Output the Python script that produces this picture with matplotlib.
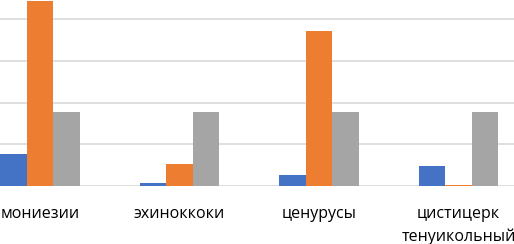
import numpy as np
import matplotlib
matplotlib.use("Agg")
from matplotlib import pyplot as plt

plt.rcParams['font.family'] = ['Open Sans', 'DejaVu Sans']

categories = ['мониезии', 'эхиноккоки', 'ценурусы', 'цистицерк\nтенуикольный']
blue_vals = [7.75, 0.8, 2.6, 4.7]
orange_vals = [44.4, 5.35, 37.3, 0.2]
gray_vals = [17.8, 17.8, 17.8, 17.8]

W, H = 514, 244
fig = plt.figure(figsize=(W / 100, H / 100), dpi=100)

# axes runs past the picture edges (the source image is cropped)
left_px, right_px = -29.75, 528.25
bottom_px, top_px = 58, 266.3
ax = fig.add_axes([left_px / W, bottom_px / H, (right_px - left_px) / W, (top_px - bottom_px) / H])

x = np.arange(len(categories))
bw = 0.191
ax.bar(x - bw, blue_vals, bw, color='#4472C4', zorder=3)
ax.bar(x, orange_vals, bw, color='#ED7D31', zorder=3)
ax.bar(x + bw, gray_vals, bw, color='#A5A5A5', zorder=3)

ax.set_xlim(-0.5, 3.5)
ax.set_ylim(0, 50)
ax.set_yticks(np.arange(0, 51, 10))
ax.yaxis.grid(True, color='#D9D9D9', lw=1.2, zorder=0)
ax.tick_params(axis='y', left=False, labelleft=False)
ax.set_xticks(x)
ax.set_xticklabels(categories, fontsize=11.5, color='#000000', linespacing=1.5)
ax.tick_params(axis='x', bottom=False, pad=11)
for s in ax.spines.values():
    s.set_visible(False)

fig.savefig('out.png', dpi=100)
